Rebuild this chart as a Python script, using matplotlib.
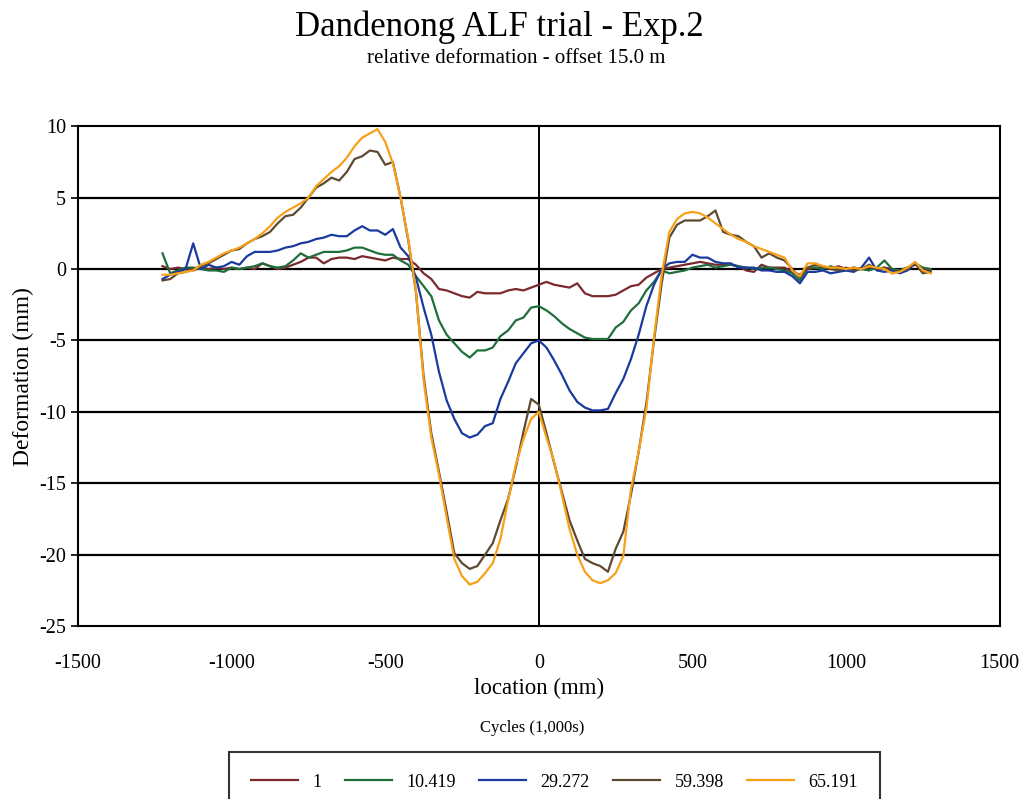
import numpy as np
import matplotlib
matplotlib.use("Agg")
from matplotlib import pyplot as plt

plt.rcParams["font.family"] = ["Liberation Serif", "DejaVu Serif"]
plt.rcParams["axes.unicode_minus"] = False

# location stations (mm), every 25 mm
location = np.arange(-1225, 1276, 25)

cycles_labels = ["1", "10.419", "29.272", "59.398", "65.191"]
colors = ["#7a2a2e", "#1f6e3c", "#1a3aa0", "#5e4a30", "#f7a11a"]

c_1 = [0.2, 0.0, 0.1, 0.0, -0.1, 0.1, 0.0, 0.1, 0.0, 0.1,
       0.0, 0.1, 0.0, 0.4, 0.2, 0.0, 0.1, 0.3, 0.5, 0.8,
       0.8, 0.4, 0.7, 0.8, 0.8, 0.7, 0.9, 0.8, 0.7, 0.6,
       0.8, 0.7, 0.7, 0.3, -0.3, -0.7, -1.4, -1.5, -1.7, -1.9,
       -2.0, -1.6, -1.7, -1.7, -1.7, -1.5, -1.4, -1.5, -1.3, -1.1,
       -0.9, -1.1, -1.2, -1.3, -1.0, -1.7, -1.9, -1.9, -1.9, -1.8,
       -1.5, -1.2, -1.1, -0.6, -0.3, 0.0, 0.1, 0.2, 0.3, 0.4,
       0.5, 0.4, 0.3, 0.3, 0.3, 0.2, -0.1, -0.2, 0.3, 0.1,
       0.1, 0.1, -0.2, -0.4, 0.0, 0.1, 0.1, 0.0, 0.2, 0.0,
       0.1, 0.0, 0.1, 0.0, 0.1, 0.0, -0.1, 0.1, 0.3, 0.0, -0.1]

c_10419 = [1.1, -0.3, -0.1, 0.1, 0.1, 0.0, -0.1, -0.1, -0.2, 0.1,
           0.0, 0.1, 0.2, 0.4, 0.2, 0.1, 0.2, 0.6, 1.1, 0.8,
           1.0, 1.2, 1.2, 1.2, 1.3, 1.5, 1.5, 1.3, 1.1, 1.0,
           1.0, 0.6, 0.3, -0.5, -1.2, -1.9, -3.6, -4.6, -5.2, -5.8,
           -6.2, -5.7, -5.7, -5.5, -4.7, -4.3, -3.6, -3.4, -2.7, -2.6,
           -2.9, -3.3, -3.8, -4.2, -4.5, -4.8, -4.9, -4.9, -4.9, -4.1,
           -3.7, -2.9, -2.4, -1.5, -0.9, -0.1, -0.3, -0.2, -0.1, 0.1,
           0.2, 0.3, 0.1, 0.2, 0.3, 0.2, 0.1, 0.0, 0.1, 0.1,
           0.0, -0.1, -0.3, -0.8, 0.1, 0.1, 0.0, 0.2, 0.0, -0.1,
           0.1, 0.0, -0.1, 0.1, 0.6, 0.0, -0.1, 0.1, 0.4, 0.1, 0.0]

c_29272 = [-0.7, -0.4, -0.2, 0.0, 1.8, 0.0, 0.3, 0.1, 0.2, 0.5,
           0.3, 0.9, 1.2, 1.2, 1.2, 1.3, 1.5, 1.6, 1.8, 1.9,
           2.1, 2.2, 2.4, 2.3, 2.3, 2.7, 3.0, 2.7, 2.7, 2.4,
           2.8, 1.5, 0.9, -0.6, -2.7, -4.6, -7.2, -9.2, -10.5, -11.5,
           -11.8, -11.6, -11.0, -10.8, -9.1, -7.9, -6.6, -5.9, -5.2, -5.0,
           -5.5, -6.4, -7.4, -8.5, -9.3, -9.7, -9.9, -9.9, -9.8, -8.7,
           -7.7, -6.3, -4.6, -2.6, -1.1, 0.0, 0.4, 0.5, 0.5, 1.0,
           0.8, 0.8, 0.5, 0.4, 0.4, 0.1, 0.1, 0.1, -0.1, -0.1,
           -0.2, -0.2, -0.5, -1.0, -0.2, -0.2, -0.1, -0.3, -0.2, -0.1,
           -0.2, 0.1, 0.8, -0.1, -0.2, -0.1, -0.3, -0.1, 0.4, -0.2, -0.2]

c_59398 = [-0.8, -0.7, -0.3, -0.2, 0.0, 0.2, 0.4, 0.7, 1.0, 1.3,
           1.4, 1.8, 2.1, 2.3, 2.6, 3.2, 3.7, 3.8, 4.3, 5.0,
           5.7, 6.0, 6.4, 6.2, 6.8, 7.7, 7.9, 8.3, 8.2, 7.3,
           7.5, 5.0, 2.0, -1.6, -7.5, -11.5, -14.2, -17.0, -19.9, -20.6,
           -21.0, -20.8, -20.0, -19.2, -17.6, -16.1, -13.9, -11.4, -9.1, -9.5,
           -11.5, -13.6, -15.6, -17.6, -19.0, -20.3, -20.6, -20.8, -21.2, -19.6,
           -18.4, -15.8, -12.8, -9.4, -5.0, -1.0, 2.2, 3.1, 3.4, 3.4,
           3.4, 3.7, 4.1, 2.6, 2.4, 2.3, 1.9, 1.6, 0.8, 1.1,
           0.8, 0.6, 0.0, -0.6, 0.1, 0.3, 0.2, 0.0, -0.1, 0.1,
           -0.1, 0.0, 0.3, 0.0, 0.1, -0.3, -0.1, 0.0, 0.4, -0.3, -0.2]

c_65191 = [-0.4, -0.4, -0.3, -0.2, -0.1, 0.3, 0.5, 0.8, 1.1, 1.3,
           1.5, 1.8, 2.1, 2.5, 3.0, 3.6, 4.0, 4.3, 4.6, 5.0,
           5.8, 6.3, 6.8, 7.2, 7.8, 8.6, 9.2, 9.5, 9.8, 8.9,
           7.4, 5.0, 2.1, -1.5, -7.8, -11.8, -14.4, -17.4, -20.3, -21.5,
           -22.1, -21.9, -21.3, -20.6, -18.9, -16.2, -13.7, -11.9, -10.5, -10.0,
           -11.8, -13.5, -15.8, -18.2, -20.0, -21.2, -21.8, -22.0, -21.8, -21.3,
           -20.1, -15.4, -12.8, -9.8, -4.8, -0.4, 2.6, 3.5, 3.9, 4.0,
           3.9, 3.6, 3.2, 2.8, 2.4, 2.1, 1.9, 1.6, 1.4, 1.2,
           1.0, 0.8, -0.1, -0.5, 0.4, 0.4, 0.2, 0.1, 0.1, 0.0,
           0.1, 0.0, 0.2, 0.1, 0.0, -0.3, -0.2, 0.1, 0.5, -0.1, -0.3]

series = [c_1, c_10419, c_29272, c_59398, c_65191]

fig = plt.figure(figsize=(10.2, 7.99), dpi=100)
ax = fig.add_axes([0.0765, 0.2165, 0.9035, 0.6255])

# grid + zero line like the excel chart
for yy in range(-20, 10, 5):
    ax.axhline(yy, color="black", lw=1.6, zorder=1)
ax.axvline(0, color="black", lw=1.4, zorder=1)

for vals, lab, col in zip(series, cycles_labels, colors):
    ax.plot(location, vals, color=col, lw=1.6, label=lab, zorder=3)

ax.set_xlim(-1500, 1500)
ax.set_ylim(-25, 10)
ax.set_xticks(range(-1500, 1501, 500))
ax.set_yticks(range(-25, 11, 5))
ax.tick_params(axis="both", labelsize=14.5, direction="out", length=5, width=1.2)
ax.tick_params(axis="x", length=0, pad=20)
for s in ax.spines.values():
    s.set_linewidth(1.5)

ax.set_xlabel("location (mm)", fontsize=16.5, labelpad=4)
ax.set_ylabel("Deformation (mm)", fontsize=17, labelpad=4)

fig.text(0.49, 0.966, "Dandenong ALF trial - Exp.2", ha="center", va="center", fontsize=25)
fig.text(0.506, 0.927, "relative deformation - offset 15.0 m", ha="center", va="center", fontsize=15)
fig.text(0.522, 0.089, "Cycles (1,000s)", ha="center", va="center", fontsize=12)

leg = fig.legend(loc="upper left", bbox_to_anchor=(229 / 1020, 1 - 752 / 799, 651 / 1020, 0.0),
                 mode="expand", ncol=5, fontsize=13, frameon=True, fancybox=False,
                 edgecolor="black", handlelength=2.6, borderpad=1.2, borderaxespad=0)
leg.get_frame().set_linewidth(1.5)

fig.savefig("out.png", dpi=100)
